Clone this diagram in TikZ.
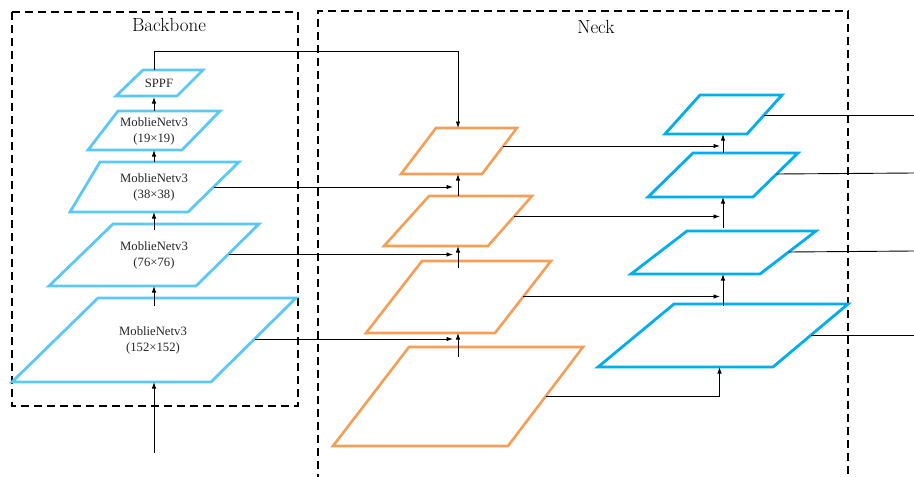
\documentclass[tikz,border=0pt]{standalone}
\usepackage{fontspec}
\newfontfamily\tnr{Liberation Serif}
\usetikzlibrary{arrows.meta}
\definecolor{bbblue}{HTML}{5CC8F7}
\definecolor{nkblue}{HTML}{00AEEF}
\definecolor{nkorange}{HTML}{F49E58}
\newcommand{\plg}[6]{%
  \coordinate (#1-tl) at #3; \coordinate (#1-tr) at #4;
  \coordinate (#1-br) at #5; \coordinate (#1-bl) at #6;
  \draw[#2] (#1-tl) -- (#1-tr) -- (#1-br) -- (#1-bl) -- cycle;}
\begin{document}
\begin{tikzpicture}[x=1pt,y=-1pt,
  frame/.style={draw=black, line width=1.3pt, dash pattern=on 8pt off 5pt},
  bbp/.style={draw=bbblue, line width=2.8pt, line join=miter},
  orp/.style={draw=nkorange, line width=2.6pt, line join=miter},
  nbp/.style={draw=nkblue, line width=2.8pt, line join=miter},
  conn/.style={draw=black, line width=0.9pt},
  arr/.style={conn, -{Latex[length=6.5pt,width=4.5pt]}},
  lbl/.style={font=\tnr\fontsize{12.7}{16}\selectfont, align=center, text=black!85, inner sep=0pt},
  ttl/.style={font=\fontsize{19}{21}\selectfont, inner sep=0pt}]
\useasboundingbox (0,0) rectangle (914,477);
\clip (0,0) rectangle (914,477);
% frames
\draw[frame] (12,12) rectangle (298,406);
\draw[frame] (318,495) -- (318,11) -- (848,11) -- (848,495);
\node[ttl] (tbb) at (169,25) {Backbone};
\node[ttl] (tnk) at (596,27) {Neck};
% backbone
\plg{sppf}{bbp}{(143,70)}{(203,70)}{(177,96)}{(116,96)}
\plg{m19}{bbp}{(118,111)}{(220,111)}{(182,150)}{(88,150)}
\plg{m38}{bbp}{(100,162)}{(239,162)}{(188,212)}{(70,212)}
\plg{m76}{bbp}{(113,224)}{(259,224)}{(196,286)}{(49,286)}
\plg{m152}{bbp}{(98,298)}{(296,298)}{(211,382)}{(12,382)}
\node[lbl] (tsppf) at (159,83) {SPPF};
\node[lbl] (tm19) at (154,131) {MoblieNetv3\\(19×19)};
\node[lbl] (tm38) at (154,187) {MoblieNetv3\\(38×38)};
\node[lbl] (tm76) at (154,255) {MoblieNetv3\\(76×76)};
\node[lbl] (tm152) at (153,340) {MoblieNetv3\\(152×152)};
% neck orange
\plg{o1}{orp}{(436,128)}{(517,128)}{(482,174)}{(401,174)}
\plg{o2}{orp}{(429,196)}{(532,196)}{(488,246)}{(384,246)}
\plg{o3}{orp}{(422,261)}{(551,261)}{(495,333)}{(366,333)}
\plg{o4}{orp}{(409,347)}{(583,347)}{(508,446)}{(333,446)}
% neck blue
\plg{b1}{nbp}{(700,95)}{(782,95)}{(747,134)}{(665,134)}
\plg{b2}{nbp}{(693,153)}{(798,153)}{(753,197)}{(648,197)}
\plg{b3}{nbp}{(687,231)}{(816,231)}{(760,274)}{(631,274)}
\plg{b4}{nbp}{(674,304)}{(848,304)}{(773,367)}{(598,367)}
% connector points
\coordinate (in) at (154,453);
\coordinate (m152b) at (154,382);
\coordinate (m152t) at (154,306);
\coordinate (m76b) at (154,286);
\coordinate (m76t) at (154,230);
\coordinate (m38b) at (154,212);
\coordinate (m38t) at (154,162);
\coordinate (m19b) at (154,150);
\coordinate (m19t) at (154,111);
\coordinate (sppfb) at (154,97);
\coordinate (sppft) at (154,70);
\coordinate (k1) at (154,51);
\coordinate (k2) at (458,51);
\coordinate (o1t) at (458,128);
\coordinate (o1b) at (458,174);
\coordinate (o2t) at (458,196);
\coordinate (o2b) at (458,246);
\coordinate (o3t) at (458,268);
\coordinate (o3b) at (458,333);
\coordinate (o4t) at (458,357);
\coordinate (m38r) at (213.5,187);
\coordinate (m76r) at (228.5,254.5);
\coordinate (m152r) at (254.5,339);
\coordinate (e38) at (453,187);
\coordinate (e76) at (453,254.5);
\coordinate (e152) at (453,339);
\coordinate (o1r) at (503.3,146);
\coordinate (o2r) at (514,216.5);
\coordinate (o3r) at (523.4,296.5);
\coordinate (o4r) at (545.9,396);
\coordinate (f1) at (720,146);
\coordinate (f2) at (720,216.5);
\coordinate (f3) at (720,296.5);
\coordinate (k3) at (719.5,396);
\coordinate (b4b) at (719.5,367);
\coordinate (b4t) at (723,306);
\coordinate (b3b) at (723,274);
\coordinate (b3t) at (723,228);
\coordinate (b2b) at (723,197);
\coordinate (b2t) at (723,153);
\coordinate (b1b) at (723,134);
\coordinate (b1r) at (764,115);
\coordinate (b2r) at (776.5,174);
\coordinate (b3r) at (788.7,252);
\coordinate (b4r) at (811,335);
\coordinate (x1) at (914,115);
\coordinate (x2) at (914,173);
\coordinate (x3) at (914,251);
\coordinate (x4) at (914,335);
% backbone arrows
\draw[arr] (in) -- (m152b);
\draw[arr] (m152t) -- (m76b);
\draw[arr] (m76t) -- (m38b);
\draw[arr] (m38t) -- (m19b);
\draw[arr] (m19t) -- (sppfb);
\draw[arr] (sppft) -- (k1) -- (k2) -- (o1t);
\draw[arr] (m38r) -- (e38);
\draw[arr] (m76r) -- (e76);
\draw[arr] (m152r) -- (e152);
% neck arrows
\draw[arr] (o2t) -- (o1b);
\draw[arr] (o3t) -- (o2b);
\draw[arr] (o4t) -- (o3b);
\draw[arr] (o1r) -- (f1);
\draw[arr] (o2r) -- (f2);
\draw[arr] (o3r) -- (f3);
\draw[arr] (o4r) -- (k3) -- (b4b);
\draw[arr] (b4t) -- (b3b);
\draw[arr] (b3t) -- (b2b);
\draw[arr] (b2t) -- (b1b);
\draw[conn] (b1r) -- (x1);
\draw[conn] (b2r) -- (x2);
\draw[conn] (b3r) -- (x3);
\draw[conn] (b4r) -- (x4);
\end{tikzpicture}
\end{document}
